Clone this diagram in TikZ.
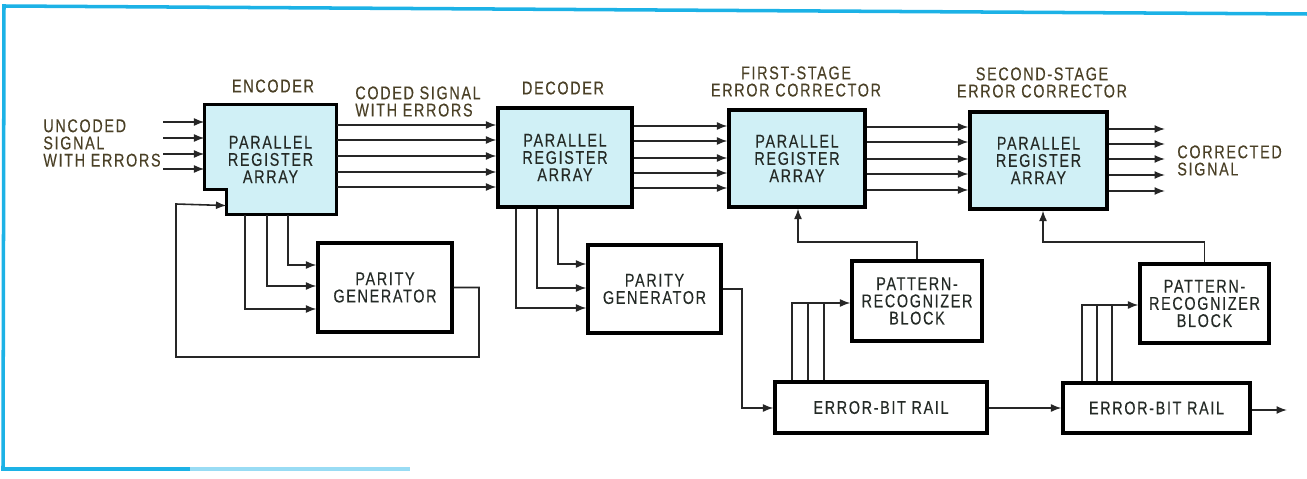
\documentclass[tikz,border=0pt]{standalone}
\usepackage{fontspec}
\setmainfont{Liberation Sans}[FakeStretch=0.78,LetterSpace=9,FakeBold=0.3]
\usetikzlibrary{arrows.meta,calc,backgrounds}
\definecolor{cellfill}{RGB}{208,240,246}
\definecolor{tagink}{RGB}{74,64,38}
\definecolor{boxink}{RGB}{36,42,38}
\definecolor{rim}{RGB}{28,178,230}
\tikzset{
  >={Latex[length=2.1mm,width=1.6mm]},
  unit/.style={draw=black,line width=1.8pt,align=center,text=boxink,inner sep=0pt,
    font=\fontsize{10.5}{9.8}\selectfont},
  reg/.style={unit,fill=cellfill},
  sig/.style={line width=0.9pt,draw=black!85},
  tag/.style={align=center,text=tagink,inner sep=0pt,font=\fontsize{10.5}{9.8}\selectfont},
}
\begin{document}
\begin{tikzpicture}[x=0.02cm,y=-0.02cm]
  \useasboundingbox (0,0) rectangle (1307,479);
  % frame
  \draw[rim,line width=2pt] (1307,14) -- (4,6) -- (3,469) -- (190,469);
  \draw[rim!45,line width=2pt] (190,469) -- (410,469);

  % register arrays
  \node[unit,draw=none,minimum width=2.58cm,minimum height=2.14cm] (enc) at (270.5,159.5) {PARALLEL\\REGISTER\\ARRAY};
  \begin{scope}[on background layer]
    \draw[reg] (enc.north west) -- (enc.north east) -- (enc.south east)
      -- ($(enc.south west)+(22,0)$) -- ($(enc.south west)+(22,-25)$)
      -- ($(enc.south west)+(0,-25)$) -- cycle;
  \end{scope}
  \coordinate (notch) at ($(enc.south west)+(22,-9)$);
  \node[reg,minimum width=2.68cm,minimum height=1.98cm] (dec) at (565,157.5) {PARALLEL\\REGISTER\\ARRAY};
  \node[reg,minimum width=2.72cm,minimum height=1.94cm] (fsc) at (797,158.5) {PARALLEL\\REGISTER\\ARRAY};
  \node[reg,minimum width=2.74cm,minimum height=1.94cm] (ssc) at (1038.5,160.5) {PARALLEL\\REGISTER\\ARRAY};

  % other blocks
  \node[unit,minimum width=2.68cm,minimum height=1.78cm] (par1) at (385,287.5) {PARITY\\GENERATOR};
  \node[unit,minimum width=2.66cm,minimum height=1.76cm] (par2) at (654.5,289) {PARITY\\GENERATOR};
  \node[unit,minimum width=2.6cm,minimum height=1.6cm] (pat1) at (917,301) {PATTERN-\\RECOGNIZER\\BLOCK};
  \node[unit,minimum width=2.58cm,minimum height=1.58cm] (pat2) at (1204.5,303.5) {PATTERN-\\RECOGNIZER\\BLOCK};
  \node[unit,minimum width=4.24cm,minimum height=1.02cm] (rail1) at (881,407.5) {ERROR-BIT RAIL};
  \node[unit,minimum width=3.74cm,minimum height=1cm] (rail2) at (1156.5,408) {ERROR-BIT RAIL};

  % labels
  \node[tag] (encl) at (273,86) {ENCODER};
  \node[tag] (decl) at (563,88) {DECODER};
  \node[tag] (fscl) at (796,81.5) {FIRST-STAGE\\ERROR CORRECTOR};
  \node[tag] (sscl) at (1042,82.5) {SECOND-STAGE\\ERROR CORRECTOR};
  \node[tag,anchor=west,align=left] (inl) at (43,143) {UNCODED\\SIGNAL\\WITH ERRORS};
  \node[tag,anchor=west,align=left] (codl) at (355,101.5) {CODED SIGNAL\\WITH ERRORS};
  \node[tag,anchor=west,align=left] (outl) at (1177,160.5) {CORRECTED\\SIGNAL};
  \coordinate (out) at (1287,410);

  % data paths
  \foreach \y in {122,138,154,169} \draw[sig,->] (163,\y) -- (enc.west |- 0,\y);
  \foreach \y in {125,140,156,172,187} \draw[sig,->] (enc.east |- 0,\y) -- (dec.west |- 0,\y);
  \foreach \y in {126,141,158,173,188} \draw[sig,->] (dec.east |- 0,\y) -- (fsc.west |- 0,\y);
  \foreach \y in {127,142,159,174,190} \draw[sig,->] (fsc.east |- 0,\y) -- (ssc.west |- 0,\y);
  \foreach \y in {129,144,159,175,191} \draw[sig,->] (ssc.east |- 0,\y) -- (1165,\y);

  % parity taps
  \foreach \x/\y in {245/309,267/286,288/265} \draw[sig,->] (\x,0 |- enc.south) |- (par1.west |- 0,\y);
  \foreach \x/\y in {516/308,537/288,558/264} \draw[sig,->] (\x,0 |- dec.south) |- (par2.west |- 0,\y);
  \draw[sig,->] (par1.east) -| (479,357) -| (176,204) -- (notch);
  \draw[sig,->] (par2.east) -| (742,408) -- (rail1.west |- 0,408);
  \draw[sig,->] (rail1.east |- 0,408) -- (rail2.west |- 0,408);
  \draw[sig,->] (rail2.east |- 0,410) -- (out);

  % error rails to recognizers
  \draw[sig,->] (792,0 |- rail1.north) |- (pat1.west |- 0,303);
  \foreach \x in {808,824} \draw[sig] (\x,0 |- rail1.north) -- (\x,303);
  \draw[sig,->] (1082,0 |- rail2.north) |- (pat2.west |- 0,305);
  \foreach \x in {1097,1112} \draw[sig] (\x,0 |- rail2.north) -- (\x,305);
  \draw[sig,->] (pat1.north) |- (798,242) -- (798,0 |- fsc.south);
  \draw[sig,->] (pat2.north) |- (1043,242) -- (1043,0 |- ssc.south);
\end{tikzpicture}
\end{document}
